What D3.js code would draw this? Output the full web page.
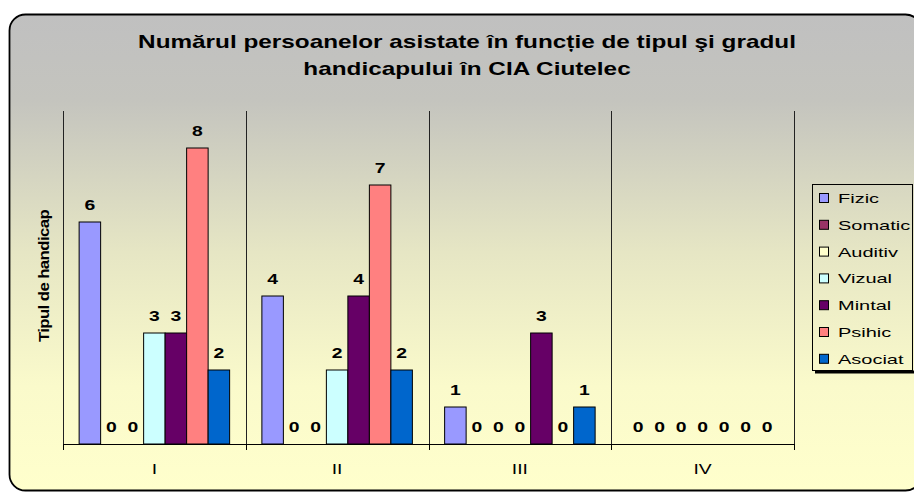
<!DOCTYPE html>
<html>
<head>
<meta charset="utf-8">
<script src="https://cdn.jsdelivr.net/npm/d3@7"></script>
<style>
  body { margin: 0; background: #fff; }
  svg { display: block; font-family: "Liberation Sans", Arial, sans-serif; }
</style>
</head>
<body>
<svg id="chart"></svg>
<script>
// data
var categories = ["I", "II", "III", "IV"];
var seriesNames = ["Fizic", "Somatic", "Auditiv", "Vizual", "Mintal", "Psihic", "Asociat"];
var fizic   = [6, 4, 1, 0];
var somatic = [0, 0, 0, 0];
var auditiv = [0, 0, 0, 0];
var vizual  = [3, 2, 0, 0];
var mintal  = [3, 4, 3, 0];
var psihic  = [8, 7, 0, 0];
var asociat = [2, 2, 1, 0];
var seriesColors = ["#9999FF", "#993366", "#FFFFCC", "#CCFFFF", "#660066", "#FF8080", "#0066CC"];

var values = [fizic, somatic, auditiv, vizual, mintal, psihic, asociat];

var width = 914, height = 493;
var plot = { left: 63, top: 111, right: 794, bottom: 444 };
var stretch = 1.38; // the original text is drawn wide

var svg = d3.select("#chart")
  .attr("width", width)
  .attr("height", height);

// background gradient of the chart frame
var grad = svg.append("defs").append("linearGradient")
  .attr("id", "bg")
  .attr("x1", 0).attr("y1", 0).attr("x2", 0).attr("y2", 1);
[[0, "#C0C0C0"], [0.18, "#C4C4BE"], [0.5, "#E6E6C4"], [0.78, "#FAFACB"], [1, "#FFFFCC"]]
  .forEach(function(s) {
    grad.append("stop").attr("offset", s[0]).attr("stop-color", s[1]);
  });

svg.append("rect")
  .attr("x", 9.5).attr("y", 14.5)
  .attr("width", 912).attr("height", 476)
  .attr("rx", 16).attr("ry", 16)
  .attr("fill", "url(#bg)")
  .attr("stroke", "#000")
  .attr("stroke-width", 1.8);

// wide text helper
function wideText(parent, x, y, sx, txt) {
  return parent.append("text")
    .attr("transform", "translate(" + x + "," + y + ") scale(" + sx + ",1)")
    .text(txt);
}

// title
wideText(svg, 467, 48, 1.28, "Numărul persoanelor asistate în funcție de tipul şi gradul")
  .attr("text-anchor", "middle")
  .style("font-size", "19px")
  .style("font-weight", "bold");
wideText(svg, 467, 75, 1.28, "handicapului în CIA Ciutelec")
  .attr("text-anchor", "middle")
  .style("font-size", "19px")
  .style("font-weight", "bold");

// scales
var x0 = d3.scaleBand()
  .domain(categories)
  .range([plot.left, plot.right]);

var gapShare = 1.5 / 8.5;
var x1 = d3.scaleBand()
  .domain(seriesNames)
  .range([x0.bandwidth() * gapShare / 2, x0.bandwidth() * (1 - gapShare / 2)]);

var y = d3.scaleLinear()
  .domain([0, 9])
  .range([plot.bottom, plot.top]);

// vertical gridlines at category boundaries
var bounds = categories.map(function(c) { return x0(c); }).concat([plot.right]);
svg.append("g").selectAll("line")
  .data(bounds)
  .enter()
  .append("line")
  .attr("x1", d => Math.round(d) + 0.5)
  .attr("x2", d => Math.round(d) + 0.5)
  .attr("y1", plot.top)
  .attr("y2", plot.bottom)
  .attr("stroke", "#222")
  .attr("stroke-width", 1);

// bars
var groups = svg.append("g").selectAll("g")
  .data(categories)
  .enter()
  .append("g")
  .attr("transform", d => "translate(" + x0(d) + ",0)");

var cells = (c, ci) => seriesNames.map((s, si) => ({ s: s, si: si, v: values[si][ci] }));

groups.selectAll("rect")
  .data(cells)
  .enter()
  .filter(d => d.v > 0)
  .append("rect")
  .attr("x", d => x1(d.s))
  .attr("y", d => y(d.v))
  .attr("width", x1.bandwidth())
  .attr("height", d => y(0) - y(d.v))
  .attr("fill", d => seriesColors[d.si])
  .attr("stroke", "#000")
  .attr("stroke-width", 1);

groups.selectAll("text")
  .data(cells)
  .enter()
  .append("text")
  .attr("transform", d => "translate(" + (x1(d.s) + x1.bandwidth() / 2) + "," + (y(d.v) - 12) + ") scale(" + stretch + ",1)")
  .attr("text-anchor", "middle")
  .style("font-size", "14px")
  .style("font-weight", "bold")
  .text(d => d.v);

// x axis
var xAxis = svg.append("g")
  .attr("transform", "translate(0," + plot.bottom + ")");
xAxis.append("line")
  .attr("x1", plot.left).attr("x2", plot.right)
  .attr("y1", 0.5).attr("y2", 0.5)
  .attr("stroke", "#000");
xAxis.selectAll(".tick")
  .data(bounds)
  .enter()
  .append("line")
  .attr("x1", d => Math.round(d) + 0.5)
  .attr("x2", d => Math.round(d) + 0.5)
  .attr("y1", 0).attr("y2", 6)
  .attr("stroke", "#000");
xAxis.selectAll(".lbl")
  .data(categories)
  .enter()
  .append("text")
  .attr("transform", d => "translate(" + (x0(d) + x0.bandwidth() / 2) + ",30) scale(" + stretch + ",1)")
  .attr("text-anchor", "middle")
  .style("font-size", "14px")
  .text(d => d);

// y axis title
svg.append("text")
  .attr("transform", "translate(49,276) rotate(-90) scale(1.2,1)")
  .attr("text-anchor", "middle")
  .style("font-size", "14px")
  .style("font-weight", "bold")
  .style("letter-spacing", "-0.5px")
  .text("Tipul de handicap");

// legend
var legend = svg.append("g").attr("transform", "translate(812,184)");
legend.append("path")
  .attr("d", "M3,188 H104 V3")
  .attr("fill", "none")
  .attr("stroke", "#000")
  .attr("stroke-width", 3);
legend.append("rect")
  .attr("x", 0.5).attr("y", 0.5)
  .attr("width", 100).attr("height", 186)
  .attr("fill", "none")
  .attr("stroke", "#000");
var items = legend.selectAll(".item")
  .data(seriesNames)
  .enter()
  .append("g")
  .attr("transform", (d, i) => "translate(0," + (14 + i * 26.8) + ")");
items.append("rect")
  .attr("x", 7.5).attr("y", -4.5)
  .attr("width", 9).attr("height", 9)
  .attr("fill", (d, i) => seriesColors[i])
  .attr("stroke", "#000");
items.append("text")
  .attr("transform", "translate(26,5) scale(1.48,1)")
  .style("font-size", "13.5px")
  .text(d => d);
</script>
</body>
</html>
